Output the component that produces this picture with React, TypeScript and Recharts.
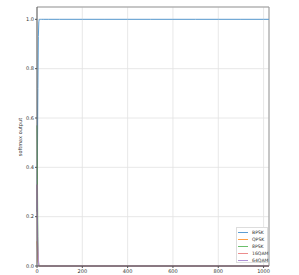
import { LineChart, Line, XAxis, YAxis, CartesianGrid, ReferenceLine } from 'recharts'

const steps = [0, 2, 4, 6, 8, 10, 12, 16, 20, 30, 50, 100, 200, 300, 400, 500, 600, 700, 800, 900, 1000, 1024]
const bpsk = [0.22, 0.45, 0.72, 0.93, 0.99, 1.0, 1.0, 1.0, 1.0, 1.0, 1.0, 1.0, 1.0, 1.0, 1.0, 1.0, 1.0, 1.0, 1.0, 1.0, 1.0, 1.0]
const qpsk = [0.1, 0.06, 0.02, 0.01, 0.0, 0.0, 0.0, 0.0, 0.0, 0.0, 0.0, 0.0, 0.0, 0.0, 0.0, 0.0, 0.0, 0.0, 0.0, 0.0, 0.0, 0.0]
const psk8 = [0.57, 0.35, 0.12, 0.03, 0.005, 0.0, 0.0, 0.0, 0.0, 0.0, 0.0, 0.0, 0.0, 0.0, 0.0, 0.0, 0.0, 0.0, 0.0, 0.0, 0.0, 0.0]
const qam16 = [0.33, 0.1, 0.06, 0.02, 0.005, 0.0, 0.0, 0.0, 0.0, 0.0, 0.0, 0.0, 0.0, 0.0, 0.0, 0.0, 0.0, 0.0, 0.0, 0.0, 0.0, 0.0]
const qam64 = [0.33, 0.2, 0.08, 0.02, 0.0, 0.0, 0.0, 0.0, 0.0, 0.0, 0.0, 0.0, 0.0, 0.0, 0.0, 0.0, 0.0, 0.0, 0.0, 0.0, 0.0, 0.0]

const xTicks = [0, 200, 400, 600, 800, 1000]
const yTicks = [0, 0.2, 0.4, 0.6, 0.8, 1.0]

const series = [
  { key: 'BPSK', color: '#5b9dd2' },
  { key: 'QPSK', color: '#ff9f45' },
  { key: '8PSK', color: '#6cbf6c' },
  { key: '16QAM', color: '#ec8d8d' },
  { key: '64QAM', color: '#ae92d6' },
]

const data = steps.map((s, i) => ({
  step: s,
  BPSK: bpsk[i],
  QPSK: qpsk[i],
  '8PSK': psk8[i],
  '16QAM': qam16[i],
  '64QAM': qam64[i],
}))

const font = 'DejaVu Sans, sans-serif'
const tickStyle = { fontSize: 5, fill: '#333', fontFamily: font }

function LegendBox() {
  return (
    <div
      style={{
        position: 'absolute',
        left: 236,
        top: 227,
        width: 32,
        height: 36,
        boxSizing: 'border-box',
        border: '1px solid #ddd',
        background: '#fff',
        padding: '1px 0 0 1px',
        fontFamily: font,
        fontSize: 4.6,
        lineHeight: '7px',
        color: '#333',
      }}
    >
      {series.map((s) => (
        <div key={s.key} style={{ display: 'flex', alignItems: 'center', height: 7 }}>
          <span style={{ width: 10, height: 1, background: s.color, marginRight: 4, flex: 'none' }} />
          <span style={{ whiteSpace: 'nowrap' }}>{s.key}</span>
        </div>
      ))}
    </div>
  )
}

export default function App() {
  return (
    <div style={{ position: 'absolute', left: 0, top: 0, width: 299, height: 275, background: '#fff' }}>
      <LineChart
        width={299}
        height={275}
        data={data}
        margin={{ top: 7, right: 30, bottom: 0, left: 0 }}
      >
        <CartesianGrid stroke="#e2e2e2" strokeWidth={0.8} />
        <XAxis
          dataKey="step"
          type="number"
          domain={[0, 1024]}
          ticks={xTicks}
          height={9}
          tickSize={2}
          tickMargin={1}
          tick={tickStyle}
          axisLine={{ stroke: '#555' }}
          tickLine={{ stroke: '#555' }}
          interval={0}
        />
        <YAxis
          type="number"
          domain={[0, 1.05]}
          ticks={yTicks}
          width={37}
          tickSize={2}
          tickMargin={1}
          tick={tickStyle}
          axisLine={{ stroke: '#555' }}
          tickLine={{ stroke: '#555' }}
          tickFormatter={(v: number) => v.toFixed(1)}
          interval={0}
          label={{
            content: () => (
              <text
                x={22}
                y={137}
                transform="rotate(-90, 22, 137)"
                textAnchor="middle"
                fontSize={5}
                fill="#333"
                fontFamily={font}
              >
                softmax output
              </text>
            ),
          }}
        />
        <ReferenceLine y={1.05} stroke="#999" strokeWidth={1} />
        <ReferenceLine x={1024} stroke="#999" strokeWidth={1} />
        {series.map((s) => (
          <Line
            key={s.key}
            dataKey={s.key}
            type="linear"
            stroke={s.color}
            strokeWidth={1}
            dot={false}
            isAnimationActive={false}
          />
        ))}
      </LineChart>
      <LegendBox />
    </div>
  )
}
